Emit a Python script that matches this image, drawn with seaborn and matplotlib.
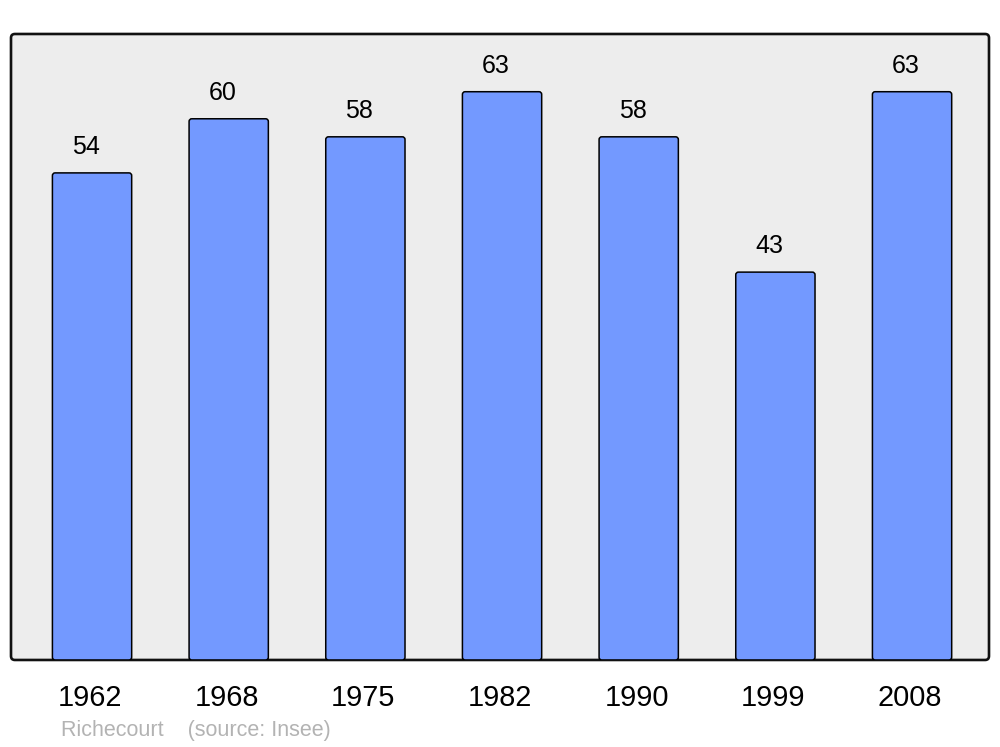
import matplotlib
matplotlib.use('Agg')
import matplotlib.pyplot as plt
from matplotlib.patches import FancyBboxPatch
import pandas as pd
import seaborn as sns

years = ['1962', '1968', '1975', '1982', '1990', '1999', '2008']
population = [54, 60, 58, 63, 58, 43, 63]
commune = 'Richecourt'
source = '(source: Insee)'

bar_color = '#7399ff'
bg_color = '#ededed'

sns.set_style('white')
plt.rcParams['font.family'] = ['Liberation Sans', 'DejaVu Sans']

df = pd.DataFrame({'year': years, 'pop': population})

fig = plt.figure(figsize=(10, 7.47), dpi=100)
ax = fig.add_axes([0.011, 0.1165, 0.978, 0.838])
ax.set_facecolor('none')

sns.barplot(data=df, x='year', y='pop', color=bar_color, width=0.58,
            edgecolor='black', linewidth=1.1, saturation=1, ax=ax, zorder=3)

ax.set_xlim(-0.593, 6.563)
ax.set_ylim(0, 69.4)

# round the bar corners a little
aspect = (69.4 / 626) / (7.156 / 978)
for p in list(ax.patches):
    x, y = p.get_x(), p.get_y()
    w, h = p.get_width(), p.get_height()
    rp = FancyBboxPatch((x, y), w, h,
                        boxstyle='round,pad=0,rounding_size=0.02',
                        mutation_aspect=aspect, facecolor=bar_color,
                        edgecolor='black', linewidth=1.1, zorder=3)
    p.remove()
    ax.add_patch(rp)

# frame with rounded corners
for s in ax.spines.values():
    s.set_visible(False)
frame = FancyBboxPatch((0, 0), 1, 1, boxstyle='round,pad=0,rounding_size=0.004',
                       transform=ax.transAxes, facecolor=bg_color,
                       edgecolor='#111111', linewidth=1.9, zorder=0,
                       clip_on=False, mutation_aspect=978 / 626)
ax.add_patch(frame)

for i, v in enumerate(population):
    ax.text(i - 0.045, v + 2.9, str(v), ha='center', va='center',
            fontsize=18, color='black', zorder=4)

ax.set_xlabel('')
ax.set_ylabel('')
ax.set_yticks([])
ax.set_xticks([i - 0.015 for i in range(len(years))], years)
ax.tick_params(axis='x', length=0, pad=17, labelsize=20.8, labelcolor='black')

fig.text(0.061, 0.0225, commune + '    ' + source, fontsize=15.5,
         color='#b3b3b3', ha='left', va='center')

fig.savefig('out.png', dpi=100)
